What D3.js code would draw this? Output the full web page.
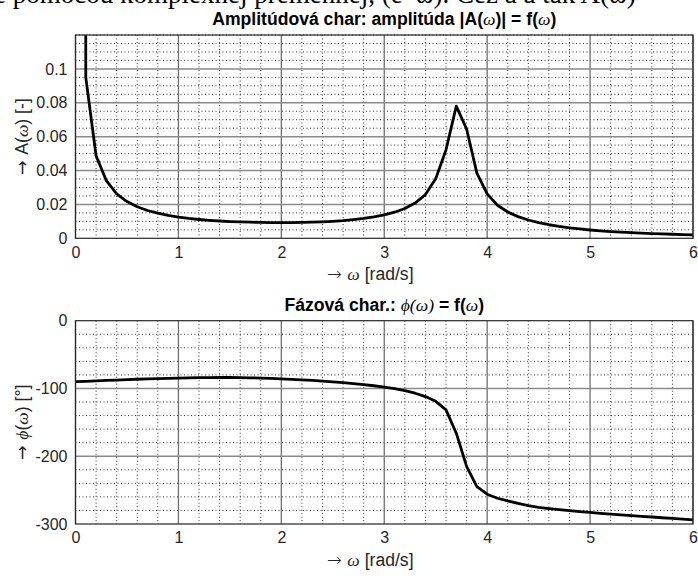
<!DOCTYPE html>
<html>
<head>
<meta charset="utf-8">
<script src="https://cdn.jsdelivr.net/npm/d3@7"></script>
<style>
  html, body { margin: 0; padding: 0; background: #fff; }
  svg { display: block; }
  .tick text { font-family: "Liberation Sans", Arial, sans-serif; font-size: 16px; fill: #262626; }
</style>
</head>
<body>
<svg id="chart" width="698" height="576"></svg>
<script>
// frequency samples [rad/s]
const omega = [0.001, 0.1, 0.2, 0.3, 0.4, 0.5, 0.6, 0.7, 0.8, 0.9,
  1.0, 1.1, 1.2, 1.3, 1.4, 1.5, 1.6, 1.7, 1.8, 1.9,
  2.0, 2.1, 2.2, 2.3, 2.4, 2.5, 2.6, 2.7, 2.8, 2.9,
  3.0, 3.1, 3.2, 3.3, 3.4, 3.5, 3.6, 3.7, 3.8, 3.9,
  4.0, 4.1, 4.2, 4.3, 4.4, 4.5, 4.6, 4.7, 4.8, 4.9,
  5.0, 5.1, 5.2, 5.3, 5.4, 5.5, 5.6, 5.7, 5.8, 5.9, 6.0];

// |A(w)|
const amplitude = [9.7, 0.095, 0.0487, 0.0340, 0.0262, 0.0217, 0.0186, 0.0164, 0.0148, 0.0135,
  0.0125, 0.0117, 0.0111, 0.0106, 0.0102, 0.0099, 0.0097, 0.0095, 0.0094, 0.0093,
  0.0093, 0.0093, 0.0094, 0.0095, 0.0097, 0.0100, 0.0104, 0.0110, 0.0117, 0.0126,
  0.0138, 0.0154, 0.0176, 0.0208, 0.0258, 0.0352, 0.0522, 0.0780, 0.0645, 0.0385,
  0.0262, 0.0195, 0.0155, 0.0128, 0.0108, 0.0092, 0.0080, 0.0070, 0.0062, 0.0055,
  0.0049, 0.0044, 0.0040, 0.0036, 0.0033, 0.0030, 0.0028, 0.0026, 0.0024, 0.0022, 0.0020];

// phi(w) in degrees
const phase = [-90, -89.4, -88.8, -88.2, -87.6, -87.0, -86.4, -85.9, -85.4, -85.0,
  -84.6, -84.3, -84.0, -83.9, -83.8, -83.8, -84.0, -84.3, -84.7, -85.2,
  -85.8, -86.5, -87.3, -88.2, -89.2, -90.3, -91.5, -92.8, -94.3, -96.0,
  -97.9, -100.2, -103.2, -107.0, -112.0, -119.0, -131.5, -166, -215, -245,
  -256, -262, -266, -269.5, -273, -275.5, -277.3, -278.9, -280.3, -281.7,
  -283, -284.2, -285.3, -286.4, -287.5, -288.6, -289.7, -290.8, -291.8, -292.8, -293.8];

const xTicks = [0, 1, 2, 3, 4, 5, 6];
const ampTicks = [0, 0.02, 0.04, 0.06, 0.08, 0.1];
const phaseTicks = [0, -100, -200, -300];

const svg = d3.select("#chart");
const serif = "'Liberation Serif', 'Times New Roman', serif";
const sans = "'Liberation Sans', Arial, sans-serif";
const arrowFont = "'DejaVu Sans', sans-serif";
const labelSize = "17.6px";

// cut-off line of text from the document above the figure
svg.append("text")
  .attr("x", -6).attr("y", 3)
  .style("font-family", serif).style("font-size", "27px").style("fill", "#000")
  .text("e pomocou komplexnej premennej, (e⁻ʲω). Cez a a tak A(ω)");

const x = d3.scaleLinear().domain([0, 6]).range([75.5, 693]);

// hyphen instead of the unicode minus that d3.format uses
const plain = d => String(d);

function panel(cfg) {
  const y = d3.scaleLinear().domain(cfg.domain).range([cfg.bottom, cfg.top]);
  const g = svg.append("g");

  // minor grid (dotted)
  g.append("g").selectAll("line").data(x.ticks(30).filter(v => !xTicks.includes(v))).join("line")
    .attr("x1", d => x(d)).attr("x2", d => x(d)).attr("y1", cfg.top).attr("y2", cfg.bottom)
    .attr("stroke", "#333").attr("stroke-width", 1).attr("stroke-dasharray", "1,2.5");
  g.append("g").selectAll("line").data(cfg.minor.filter(v => !cfg.ticks.some(t => Math.abs(t - v) < 1e-9))).join("line")
    .attr("y1", d => y(d)).attr("y2", d => y(d)).attr("x1", x(0)).attr("x2", x(6))
    .attr("stroke", "#333").attr("stroke-width", 1).attr("stroke-dasharray", "1,2.5");

  // major grid
  g.append("g").selectAll("line").data(xTicks).join("line")
    .attr("x1", d => x(d)).attr("x2", d => x(d)).attr("y1", cfg.top).attr("y2", cfg.bottom)
    .attr("stroke", "#707070").attr("stroke-width", 1.3);
  g.append("g").selectAll("line").data(cfg.ticks.filter(v => v !== cfg.domain[0] && v !== cfg.domain[1])).join("line")
    .attr("y1", d => y(d)).attr("y2", d => y(d)).attr("x1", x(0)).attr("x2", x(6))
    .attr("stroke", "#8a8a8a").attr("stroke-width", 1.5);

  // curve, clipped to the axes box
  const clipId = "clip" + cfg.id;
  svg.append("clipPath").attr("id", clipId).append("rect")
    .attr("x", x(0)).attr("y", cfg.top).attr("width", x(6) - x(0)).attr("height", cfg.bottom - cfg.top);
  g.append("path")
    .datum(omega.map((w, i) => [w, cfg.values[i]]))
    .attr("clip-path", `url(#${clipId})`)
    .attr("fill", "none").attr("stroke", "#000").attr("stroke-width", 2.8)
    .attr("stroke-linejoin", "round")
    .attr("d", d3.line().x(d => x(d[0])).y(d => y(d[1])));

  // box
  g.append("rect")
    .attr("x", x(0)).attr("y", cfg.top).attr("width", x(6) - x(0)).attr("height", cfg.bottom - cfg.top)
    .attr("fill", "none").attr("stroke", "#262626").attr("stroke-width", 1.2);

  // axes
  const xa = g.append("g").attr("transform", `translate(0,${cfg.bottom})`)
    .call(d3.axisBottom(x).tickValues(xTicks).tickFormat(plain).tickSize(0).tickPadding(8));
  xa.select(".domain").remove();
  const ya = g.append("g").attr("transform", `translate(${x(0)},0)`)
    .call(d3.axisLeft(y).tickValues(cfg.ticks).tickFormat(plain).tickSize(0).tickPadding(8));
  ya.select(".domain").remove();

  // title
  const t = g.append("text")
    .attr("x", (x(0) + x(6)) / 2).attr("y", cfg.top - 10)
    .attr("text-anchor", "middle")
    .style("font-family", sans).style("font-size", labelSize).style("font-weight", "bold").style("fill", "#000");
  cfg.title.forEach(p => t.append("tspan").text(p[0])
    .style("font-family", p[1] ? serif : sans)
    .style("font-style", p[1] ? "italic" : "normal")
    .style("font-weight", p[1] ? "normal" : "bold"));

  // x label
  const xl = g.append("text")
    .attr("x", (x(0) + x(6)) / 2 - 14).attr("y", cfg.bottom + 42)
    .attr("text-anchor", "middle")
    .style("font-family", sans).style("font-size", labelSize).style("fill", "#262626");
  xl.append("tspan").text("→ ").style("font-family", arrowFont).style("font-weight", "200");
  xl.append("tspan").text("ω").style("font-family", serif).style("font-style", "italic");
  xl.append("tspan").text(" [rad/s]");

  // y label
  const yl = g.append("text")
    .attr("transform", `translate(28,${(cfg.top + cfg.bottom) / 2}) rotate(-90)`)
    .attr("text-anchor", "middle")
    .style("font-family", sans).style("font-size", labelSize).style("fill", "#262626");
  cfg.ylabel.forEach(p => yl.append("tspan").text(p[0])
    .style("font-family", p[1] === 1 ? arrowFont : (p[1] ? serif : sans))
    .style("font-style", p[1] === 2 ? "italic" : "normal"));
}

panel({
  id: "A", top: 35, bottom: 238.3, domain: [0, 0.12],
  values: amplitude, ticks: ampTicks,
  minor: d3.scaleLinear().domain([0, 0.12]).ticks(24),
  title: [["Amplitúdová char: amplitúda |A("], ["ω", 1], [")| = f("], ["ω", 1], [")"]],
  ylabel: [["→ ", 1], ["A("], ["ω", 2], [") [-]"]]
});

panel({
  id: "P", top: 320.7, bottom: 524, domain: [-300, 0],
  values: phase, ticks: phaseTicks,
  minor: d3.scaleLinear().domain([-300, 0]).ticks(15),
  title: [["Fázová char.:  "], ["ϕ(ω)", 1], [" = f("], ["ω", 1], [")"]],
  ylabel: [["→ ", 1], ["ϕ", 2], ["("], ["ω", 2], [") [°]"]]
});
</script>
</body>
</html>
